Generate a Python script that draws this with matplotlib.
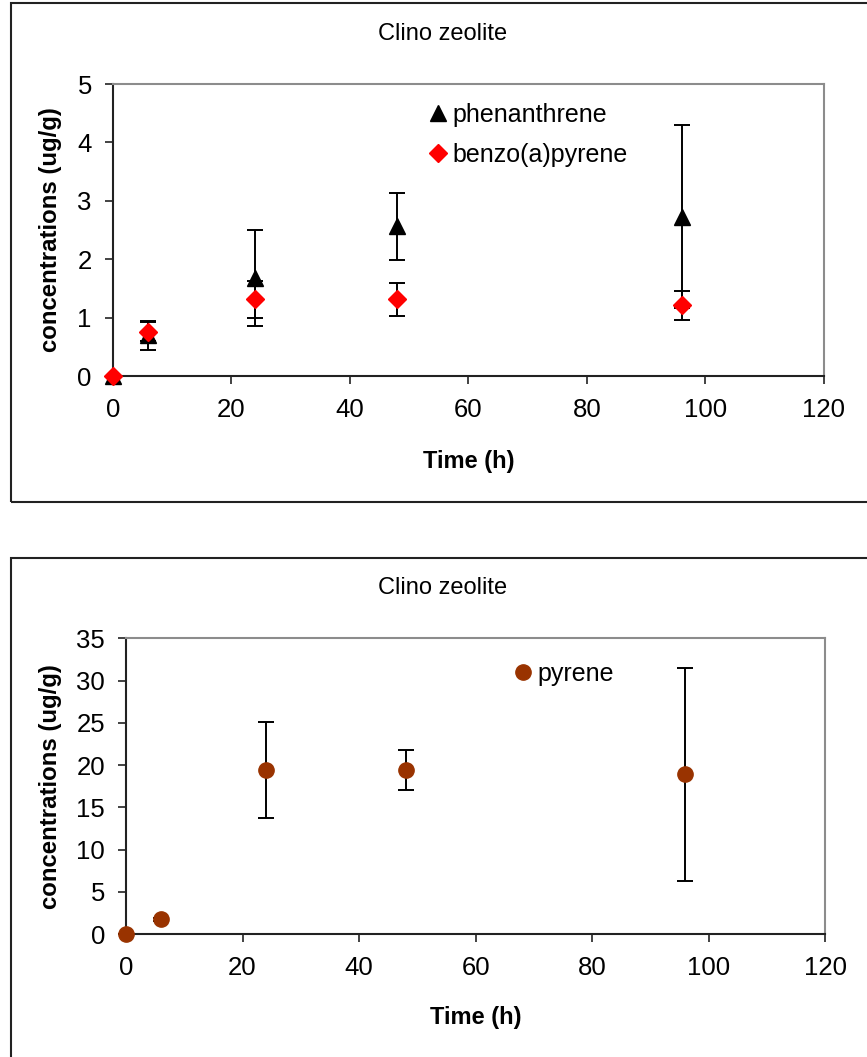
import matplotlib
matplotlib.use("Agg")
import matplotlib.pyplot as plt
from matplotlib.patches import Rectangle

plt.rcParams["font.family"] = ["Liberation Sans", "DejaVu Sans"]

# sampling times (h)
time_h = [0, 6, 24, 48, 96]

# Clino zeolite, first panel
phenanthrene = [0.0, 0.70, 1.68, 2.56, 2.73]
phenanthrene_err = [0.0, 0.25, 0.82, 0.57, 1.56]
benzo_a_pyrene = [0.0, 0.76, 1.31, 1.31, 1.21]
benzo_a_pyrene_err = [0.0, 0.16, 0.31, 0.28, 0.25]

# Clino zeolite, second panel
pyrene = [0.0, 1.74, 19.4, 19.4, 18.9]
pyrene_err = [0.0, 0.2, 5.7, 2.4, 12.6]

W, H = 867, 1057
fig = plt.figure(figsize=(W / 100, H / 100), dpi=100)


def px_axes(left, top, right, bottom):
    return fig.add_axes([left / W, 1 - bottom / H, (right - left) / W, (bottom - top) / H])


def style_axes(ax, ymax, ystep):
    ax.set_xlim(0, 120)
    ax.set_ylim(0, ymax)
    ax.set_xticks(range(0, 121, 20))
    ax.set_yticks(range(0, ymax + 1, ystep))
    for side in ("top", "right"):
        ax.spines[side].set_color("#8c8c8c")
        ax.spines[side].set_linewidth(1.5)
    for side in ("left", "bottom"):
        ax.spines[side].set_color("#222222")
        ax.spines[side].set_linewidth(1.5)
    ax.tick_params(direction="out", length=6, width=1.2, color="#222222",
                   labelsize=18.5)
    ax.tick_params(axis="x", pad=10)
    ax.tick_params(axis="y", pad=9)
    ax.set_xlabel("Time (h)", fontsize=17, fontweight="bold")
    ax.set_ylabel("concentrations (ug/g)", fontsize=17.3, fontweight="bold")


def draw_frame(y_top, y_bottom):
    fig.patches.append(Rectangle((10.5 / W, 1 - y_bottom / H), 2.0, (y_bottom - y_top) / H,
                                 transform=fig.transFigure, fill=False,
                                 edgecolor="#222222", linewidth=1.5))


err_kw = dict(ecolor="black", elinewidth=1.4, capsize=5.5, capthick=1.4,
              linestyle="none", clip_on=False)
leg_kw = dict(loc="upper left", frameon=False, fontsize=18, handlelength=0.6,
              handletextpad=0.28, borderpad=0, borderaxespad=0)

# --- top panel ---
draw_frame(3, 501.5)
fig.text(443 / W, 1 - 34 / H, "Clino zeolite", fontsize=17, ha="center", va="center")
ax1 = px_axes(112.7, 84, 824, 376)
style_axes(ax1, 5, 1)
ax1.errorbar(time_h, phenanthrene, yerr=phenanthrene_err, marker="^", markersize=12,
             color="black", label="phenanthrene", zorder=3, **err_kw)
ax1.errorbar(time_h, benzo_a_pyrene, yerr=benzo_a_pyrene_err, marker="D", markersize=9.5,
             color="#ff0000", mec="#ff0000", label="benzo(a)pyrene", zorder=4, **err_kw)
ax1.xaxis.set_label_coords(0.5, -0.255)
ax1.yaxis.set_label_coords((61.7 - 112.7) / 711.3, 0.5)
h, l = ax1.get_legend_handles_labels()
h = [hh[0] for hh in h]
ax1.legend(h, l, bbox_to_anchor=((430 - 112.7) / 711.3, (376 - 103) / 292),
           labelspacing=0.64, **leg_kw)

# --- bottom panel ---
draw_frame(558, 1100)
fig.text(443 / W, 1 - 588 / H, "Clino zeolite", fontsize=17, ha="center", va="center")
ax2 = px_axes(126, 638.3, 825.3, 934)
style_axes(ax2, 35, 5)
ax2.errorbar(time_h, pyrene, yerr=pyrene_err, marker="o", markersize=11,
             color="#993300", mec="#993300", label="pyrene", zorder=3, **err_kw)
ax2.xaxis.set_label_coords(0.5, -0.245)
ax2.yaxis.set_label_coords((61.7 - 126) / 699.3, 0.5)
h, l = ax2.get_legend_handles_labels()
h = [hh[0] for hh in h]
ax2.legend(h, l, bbox_to_anchor=((515 - 126) / 699.3, (934 - 662) / 295.7), **leg_kw)

fig.savefig("out.png", dpi=100)
